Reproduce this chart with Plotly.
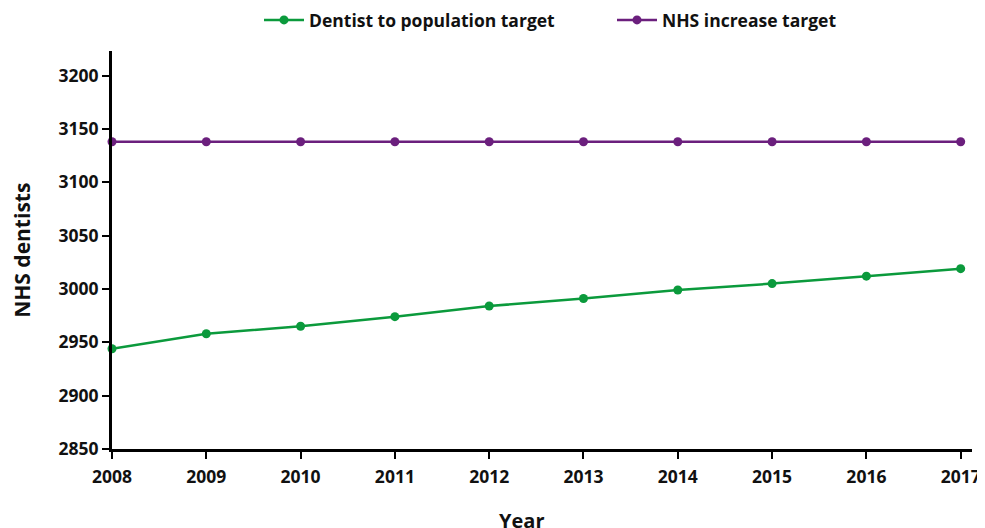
import plotly.graph_objects as go

years = [2008, 2009, 2010, 2011, 2012, 2013, 2014, 2015, 2016, 2017]
dentist_to_population = [2944, 2958, 2965, 2974, 2984, 2991, 2999, 3005, 3012, 3019]
nhs_increase = [3138, 3138, 3138, 3138, 3138, 3138, 3138, 3138, 3138, 3138]
y_ticks = [2850, 2900, 2950, 3000, 3050, 3100, 3150, 3200]

GREEN = "#0b9a3c"
PURPLE = "#6b1f7d"
FONT = "Open Sans"
TXT = "#111111"

W, H = 985, 528

fig = go.Figure()
fig.add_trace(go.Scatter(
    x=years, y=dentist_to_population, mode="lines+markers",
    name="Dentist to population target",
    line=dict(color=GREEN, width=2.5), marker=dict(color=GREEN, size=9),
    cliponaxis=False,
))
fig.add_trace(go.Scatter(
    x=years, y=nhs_increase, mode="lines+markers",
    name="NHS increase target",
    line=dict(color=PURPLE, width=2.5), marker=dict(color=PURPLE, size=9),
    cliponaxis=False,
))

fig.update_layout(
    width=W, height=H,
    margin=dict(l=104, r=21, t=43, b=87, autoexpand=False),
    paper_bgcolor="white", plot_bgcolor="white",
    font=dict(family=FONT, size=17, color=TXT),
    legend=dict(orientation="h", x=(251 - 104) / 860, xanchor="left",
                y=1 - 12 / H, yanchor="middle", yref="container",
                font=dict(family=FONT, size=17.5, color=TXT, weight="bold"),
                itemwidth=40, entrywidth=298),
    showlegend=True,
)

fig.update_xaxes(
    range=[2008, 2017.12], tickvals=years, ticktext=[str(y) for y in years],
    showgrid=False, zeroline=False, automargin=False,
    ticklabeloverflow="allow",
    showline=True, linecolor="black", linewidth=3,
    ticks="outside", ticklen=7, tickwidth=2, tickcolor="black",
    ticklabelstandoff=3,
    tickfont=dict(family=FONT, size=17.5, color=TXT, weight="bold"),
)
fig.update_yaxes(
    range=[2850, 3223], tickvals=y_ticks, ticktext=[str(v) for v in y_ticks],
    showgrid=False, zeroline=False, automargin=False,
    showline=True, linecolor="black", linewidth=3,
    ticks="outside", ticklen=7, tickwidth=2, tickcolor="black",
    tickfont=dict(family=FONT, size=17.5, color=TXT, weight="bold"),
)
fig.add_annotation(
    text="NHS dentists", xref="paper", yref="paper", x=(14 - 104) / 860, y=0.498,
    xanchor="center", yanchor="middle", textangle=-90, showarrow=False,
    font=dict(family=FONT, size=21, color=TXT, weight="bold"),
)
fig.add_annotation(
    text="Year", xref="paper", yref="paper", x=0.4756, y=-0.14,
    xanchor="center", yanchor="top", showarrow=False,
    font=dict(family=FONT, size=20, color=TXT, weight="bold"),
)

fig.write_html("out.html")
